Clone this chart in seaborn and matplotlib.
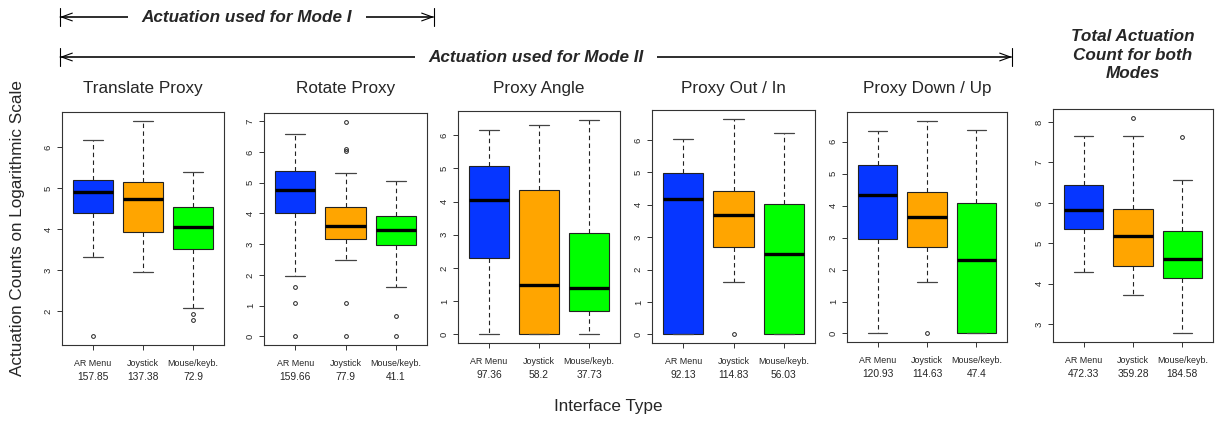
import numpy as np
import pandas as pd
import matplotlib
matplotlib.use("Agg")
import matplotlib.pyplot as plt
import matplotlib.patches as mpatches
import seaborn as sns

# ---------------- data ----------------
panel_titles = ["Translate Proxy", "Rotate Proxy", "Proxy Angle",
                "Proxy Out / In", "Proxy Down / Up", ""]
interfaces = ["AR Menu", "Joystick", "Mouse/keyb."]
box_colors = ["#0636ff", "#ffa500", "#00ff00"]

mean_counts = [
    ["157.85", "137.38", "72.9"],
    ["159.66", "77.9", "41.1"],
    ["97.36", "58.2", "37.73"],
    ["92.13", "114.83", "56.03"],
    ["120.93", "114.63", "47.4"],
    ["472.33", "359.28", "184.58"],
]

whisker_low = [
    [3.33, 2.95, 2.08],
    [1.96, 2.48, 1.60],
    [0.00, 0.00, 0.00],
    [0.00, 1.62, 0.00],
    [0.00, 1.61, 0.00],
    [4.29, 3.71, 2.77],
]
q1 = [
    [4.39, 3.93, 3.52],
    [4.00, 3.17, 2.97],
    [2.30, 0.00, 0.70],
    [0.00, 2.71, 0.00],
    [2.94, 2.70, 0.00],
    [5.35, 4.43, 4.14],
]
median = [
    [4.90, 4.73, 4.04],
    [4.78, 3.60, 3.45],
    [4.04, 1.49, 1.39],
    [4.19, 3.67, 2.48],
    [4.34, 3.65, 2.30],
    [5.82, 5.19, 4.61],
]
q3 = [
    [5.20, 5.15, 4.55],
    [5.37, 4.21, 3.92],
    [5.06, 4.35, 3.05],
    [4.98, 4.44, 4.04],
    [5.28, 4.41, 4.09],
    [6.44, 5.85, 5.30],
]
whisker_high = [
    [6.18, 6.64, 5.39],
    [6.59, 5.33, 5.06],
    [6.16, 6.31, 6.47],
    [6.04, 6.66, 6.23],
    [6.32, 6.66, 6.37],
    [7.66, 7.65, 6.56],
]
outliers_low = [
    [[1.39], [], [1.93, 1.80]],
    [[1.60, 1.09, 0.0], [1.09, 0.0], [0.68, 0.0]],
    [[], [], []],
    [[], [0.0], []],
    [[], [0.0], []],
    [[], [], []],
]
outliers_high = [
    [[], [], []],
    [[], [6.99, 6.10, 6.02], []],
    [[], [], []],
    [[], [], []],
    [[], [], []],
    [[], [8.11], [7.63]],
]
y_ticks = [
    [2, 3, 4, 5, 6],
    [0, 1, 2, 3, 4, 5, 6, 7],
    [0, 1, 2, 3, 4, 5, 6],
    [0, 1, 2, 3, 4, 5, 6],
    [0, 1, 2, 3, 4, 5, 6],
    [3, 4, 5, 6, 7, 8],
]

# ---------------- layout (pixel rects: left, right, top, bottom) ----------------
W, H = 1215, 421
rects = [
    (62, 224, 112, 345),
    (264, 427, 113, 345),
    (458, 620, 111, 343),
    (652, 815, 110, 343),
    (847, 1007, 112, 342),
    (1053, 1213, 109, 342),
]

sns.set_theme(style="ticks")
plt.rcParams["font.family"] = ["Liberation Sans", "DejaVu Sans"]

fig = plt.figure(figsize=(W / 100, H / 100), dpi=100)


def box_sample(i, j):
    """17-point sample whose quartiles / whiskers / outliers equal the read summary."""
    lo_out = sorted(outliers_low[i][j])
    hi_out = sorted(outliers_high[i][j])
    lo = lo_out + [whisker_low[i][j]] * (4 - len(lo_out))
    hi = [whisker_high[i][j]] * (4 - len(hi_out)) + hi_out
    return lo + [q1[i][j]] * 4 + [median[i][j]] * 4 + [q3[i][j]] + hi


for i in range(6):
    l, r, t, b = rects[i]
    ax = fig.add_axes([l / W, 1 - b / H, (r - l) / W, (b - t) / H])
    values, groups = [], []
    for j, name in enumerate(interfaces):
        s = box_sample(i, j)
        values += s
        groups += [name] * len(s)
    df = pd.DataFrame({"Interface": groups, "Count": values})

    sns.boxplot(
        data=df, x="Interface", y="Count", hue="Interface",
        order=interfaces, hue_order=interfaces, palette=box_colors,
        saturation=1, width=0.8, whis=1.5, linecolor="#222222", linewidth=0.8,
        fliersize=2.7, legend=False, ax=ax,
        medianprops=dict(color="black", linewidth=2.4),
        whiskerprops=dict(color="#222222", linewidth=0.8, linestyle=(0, (4, 3))),
        capprops=dict(color="#444444", linewidth=0.9),
        flierprops=dict(marker="o", markerfacecolor="none",
                        markeredgecolor="#222222", markeredgewidth=0.7),
    )

    allv = np.array(values)
    lo, hi = allv.min(), allv.max()
    rng = hi - lo
    ax.set_ylim(lo - 0.04 * rng, hi + 0.04 * rng)
    ax.set_xlim(-0.62, 2.62)
    ax.set_yticks(y_ticks[i])
    ax.set_yticklabels([str(v) for v in y_ticks[i]], rotation=90, va="center")
    ax.set_xticks(range(3))
    ax.set_xticklabels(interfaces)
    ax.set_xlabel("")
    ax.set_ylabel("")
    for sp in ax.spines.values():
        sp.set_visible(True)
        sp.set_color("#333333")
        sp.set_linewidth(0.8)
    ax.tick_params(axis="both", which="major", direction="out", length=3.6,
                   width=0.7, color="#333333", bottom=True, left=True,
                   labelsize=6.8)
    ax.tick_params(axis="x", pad=6.5, labelsize=6.4)
    ax.tick_params(axis="y", pad=3)
    ax.grid(False)

    for j, txt in enumerate(mean_counts[i]):
        ax.annotate(txt, xy=(j, 0), xycoords=("data", "axes fraction"),
                    xytext=(0, -23.3), textcoords="offset points",
                    ha="center", va="center", fontsize=7.4)

    if panel_titles[i]:
        fig.text(((l + r) / 2) / W, 1 - 88 / H, panel_titles[i],
                 ha="center", va="center", fontsize=12.3)

# total title
fig.text(1133 / W, 1 - 55 / H, "Total Actuation\nCount for both\nModes",
         ha="center", va="center", fontsize=12.3, fontweight="bold",
         fontstyle="italic", linespacing=1.3)

# global axis labels
fig.text(18 / W, 1 - 228 / H, "Actuation Counts on Logarithmic Scale",
         rotation=90, ha="center", va="center", fontsize=12.3)
fig.text(608 / W, 1 - 407 / H, "Interface Type", ha="center", va="center",
         fontsize=12.3)


def span_arrow(x0, x1, ypix, label):
    y = 1 - ypix / H
    styles = [mpatches.ArrowStyle("<->", head_length=0.55, head_width=0.2),
              mpatches.ArrowStyle("|-|", widthA=0.45, widthB=0.45)]
    for style in styles:
        arr = mpatches.FancyArrowPatch(
            (x0 / W, y), (x1 / W, y), transform=fig.transFigure,
            arrowstyle=style, mutation_scale=14, shrinkA=0, shrinkB=0,
            lw=0.8, color="black")
        fig.add_artist(arr)
    fig.text(((x0 + x1) / 2) / W, y, label, ha="center", va="center",
             fontsize=12.3, fontweight="bold", fontstyle="italic",
             bbox=dict(facecolor="white", edgecolor="none", pad=10))


span_arrow(60, 434, 17, "Actuation used for Mode I")
span_arrow(60, 1012, 57, "Actuation used for Mode II")

fig.savefig("out.png", dpi=100)
